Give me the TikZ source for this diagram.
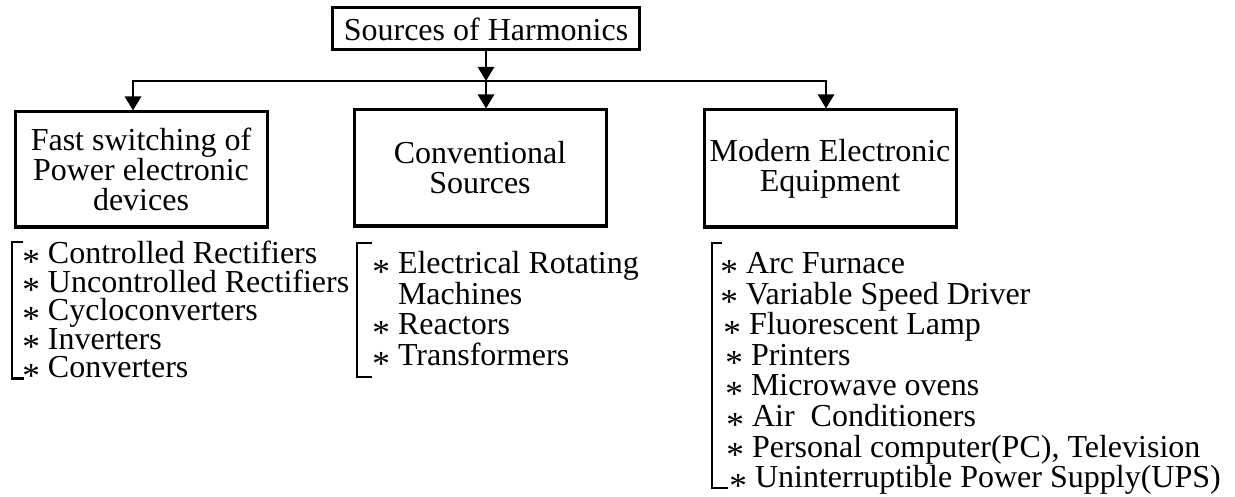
\documentclass[tikz,border=0pt]{standalone}
\usepackage{fontspec}
\setmainfont{Liberation Serif}
\usetikzlibrary{arrows.meta}

\newcommand{\itm}{\raisebox{-0.3em}[0pt][0pt]{\scalebox{1.1}{*}}\hspace{0.25em}}

\tikzset{
  box/.style={draw,line width=1.5pt,align=center,inner sep=0pt,minimum width=126pt,font=\fontsize{16}{15}\selectfont},
  lst/.style={align=left,inner sep=0pt,anchor=north west},
  arr/.style={line width=1.3pt,-{Triangle[length=7pt,width=8pt]}},
  brk/.style={line width=1.3pt}
}

\begin{document}
\begin{tikzpicture}[x=0.5pt,y=-0.5pt]
\useasboundingbox (0,0) rectangle (1235,497);

\path (486,29)    node[box,minimum width=153.5pt,minimum height=21pt] (T) {Sources of Harmonics};
\path (141,169.5) node[box,minimum height=57.5pt] (B1) {Fast switching of\\Power electronic\\devices};
\path (480,168)   node[box,minimum height=58pt] (B2) {Conventional\\Sources};
\path (830,168.5) node[box,minimum height=58.5pt] (B3) {Modern Electronic\\Equipment};

\coordinate (J1) at (133,81);
\coordinate (J2) at (486,81);
\coordinate (J3) at (826,81);

\draw[arr] (T) -- (J2);
\draw[arr] (J2) -- (J1) -- (J1 |- B1.north);
\draw[arr] (J2) -- (J3) -- (J3 |- B3.north);
\draw[arr] (J2) -- (J2 |- B2.north);

\path (22,241)  node[lst,font=\fontsize{16}{14.2}\selectfont] (L1) {\itm Controlled Rectifiers\\
  \itm Uncontrolled Rectifiers\\
  \itm Cycloconverters\\
  \itm Inverters\\
  \itm Converters};
\path (372,251) node[lst,font=\fontsize{16}{15.3}\selectfont] (L2) {\itm Electrical Rotating\\
  \phantom{\itm}Machines\\
  \itm Reactors\\
  \itm Transformers};
\path (720,252) node[lst,font=\fontsize{16}{15.3}\selectfont] (L3) {\itm Arc Furnace\\
  \itm Variable Speed Driver\\
  \hspace*{1.5pt}\itm Fluorescent Lamp\\
  \hspace*{2.5pt}\itm Printers\\
  \hspace*{2.5pt}\itm Microwave ovens\\
  \hspace*{3pt}\itm Air\ \ Conditioners\\
  \hspace*{3pt}\itm Personal computer(PC), Television\\
  \hspace*{4.5pt}\itm Uninterruptible Power Supply(UPS)};

% brackets
\draw[brk] ([shift={(1,1)}]L1.north west) -| ([shift={(-10,0)}]L1.south west) -- ++(12,0);
\draw[brk] ([shift={(0,-8)}]L2.north west) -| ([shift={(-15,11)}]L2.south west) -- ++(15,0);
\draw[brk] ([shift={(2,-9)}]L3.north west) -| ([shift={(-8,-7)}]L3.south west) -- ++(16,0);
\end{tikzpicture}
\end{document}
